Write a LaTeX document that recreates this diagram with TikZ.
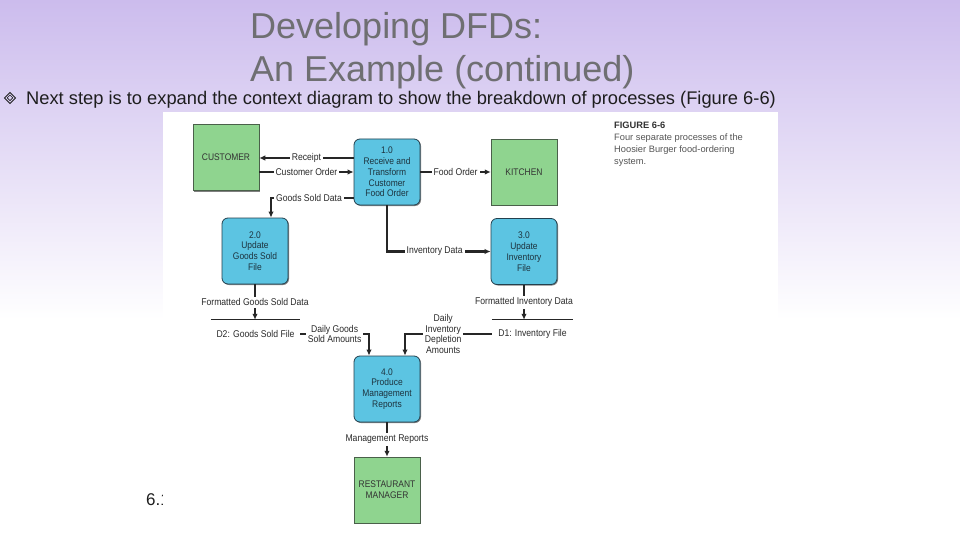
\documentclass[tikz,border=0pt]{standalone}
\usepackage{fontspec}
\setmainfont{Liberation Sans}
\newfontfamily\nar[FakeStretch=0.88]{Liberation Sans}
\usetikzlibrary{arrows.meta,calc,shadows}
\definecolor{procblue}{HTML}{5CC4E2}
\definecolor{entgreen}{HTML}{8FD48F}
\definecolor{procedge}{HTML}{24404E}
\definecolor{entedge}{HTML}{4A604A}
\definecolor{titlegray}{HTML}{6F6F72}
\definecolor{bodytext}{HTML}{1E1E1E}
\definecolor{labelc}{HTML}{2A2A2A}
\definecolor{gradtop}{RGB}{204,188,237}
\definecolor{capgray}{HTML}{555555}
\begin{document}
\begin{tikzpicture}[x=1pt,y=-1pt,
  boxfont/.style={font={\nar\fontsize{9.6}{10.8}\selectfont}},
  proc/.style={boxfont, rounded corners=6pt, fill=procblue, draw=procedge, line width=0.8pt,
    minimum width=66pt, minimum height=66pt, align=center, inner sep=0pt, text=procedge!80!black,
    drop shadow={shadow xshift=1pt, shadow yshift=-1pt, fill=black, opacity=0.5}},
  ent/.style={boxfont, fill=entgreen, draw=entedge, line width=0.5pt,
    minimum width=66pt, minimum height=66pt, align=center, inner sep=0pt, text=black!80,
    drop shadow={shadow xshift=1pt, shadow yshift=-1pt, fill=black, opacity=0.5}},
  lbl/.style={font={\nar\fontsize{9.8}{10.8}\selectfont}, text=labelc, fill=white, inner sep=2pt, align=center},
  flow/.style={line width=2.4pt, draw=black!85, -{Latex[length=6pt,width=5.5pt]}},
  store/.style={font={\nar\fontsize{9.8}{10.8}\selectfont}, text=labelc, minimum height=28pt, inner sep=0pt},
  storeline/.style={line width=0.9pt, draw=black!85},
  diam/.style={line width=0.8pt, draw=bodytext}
]
\useasboundingbox (0,0) rectangle (960,540);
\fill[white] (0,0) rectangle (960,540);
\shade[top color=gradtop, bottom color=white] (0,0) rectangle (960,320);

% page number partly hidden behind the figure
\node[anchor=base west, inner sep=0pt, font={\fontsize{17}{20}\selectfont}, text=bodytext] (pnum) at (146,505) {6.1};

% figure area
\fill[white] (163,112) rectangle (778,526);

% title
\node[anchor=base west, inner sep=0pt, font={\fontsize{36}{40}\selectfont}, text=titlegray] (t1) at (250,39) {Developing DFDs:};
\node[anchor=base west, inner sep=0pt, font={\fontsize{36}{40}\selectfont}, text=titlegray] (t2) at (250,82) {An Example (continued)};

% bullet
\draw[diam] (10,92.5) -- (15.5,98) -- (10,103.5) -- (4.5,98) -- cycle;
\draw[diam, line width=0.6pt] (10,95) -- (12.8,97.8) -- (10,100.6) -- (7.2,97.8) -- cycle;
\node[anchor=base west, inner sep=0pt, font={\fontsize{18.3}{20}\selectfont}, text=bodytext] (b1) at (26,105)
  {Next step is to expand the context diagram to show the breakdown of processes (Figure 6-6)};

% caption
\node[anchor=north west, inner sep=0pt, align=left, text=capgray, font={\fontsize{9.3}{12}\selectfont}] (cap) at (614,122)
  {{\bfseries\color{black!80}FIGURE 6-6}\\Four separate processes of the\\Hoosier Burger food-ordering\\system.};

% nodes
\node[ent] (cust) at (226,157.5) {CUSTOMER};
\node[proc] (p1) at (387,172) {1.0\\Receive and\\Transform\\Customer\\Food Order};
\node[ent] (kit) at (524,172) {KITCHEN};
\node[proc] (p2) at (255,251) {2.0\\Update\\Goods Sold\\File};
\node[proc] (p3) at (524,251.5) {3.0\\Update\\Inventory\\File};
\node[proc] (p4) at (387,389) {4.0\\Produce\\Management\\Reports};
\node[ent] (mgr) at (387,490) {RESTAURANT\\MANAGER};
\node[store, minimum width=89pt] (d2) at (255.5,334) {D2: Goods Sold File};
\node[store, minimum width=81pt] (d1) at (532.5,334) {D1: Inventory File};
\draw[storeline] (d2.north west) -- (d2.north east);
\draw[storeline] (d1.north west) -- (d1.north east);

% flows
\draw[flow] ($(p1.west)+(0,-14)$) coordinate (r1) -- node[lbl]{Receipt} (cust.east |- r1);
\draw[flow] (cust.east |- p1.west) -- node[lbl]{Customer Order} (p1.west);
\draw[flow] ($(p1.west)+(0,26)$) -| node[lbl,pos=0.27]{Goods Sold Data} ($(p2.north)+(16,0)$);
\draw[flow] (p1.east) -- node[lbl]{Food Order} (kit.west);
\draw[flow] (p1.south) |- node[lbl,pos=0.73]{Inventory Data} (p3.west);
\draw[flow] (p2.south) -- node[lbl]{Formatted Goods Sold Data} (p2.south |- d2.north);
\draw[flow] (p3.south) -- node[lbl]{Formatted Inventory Data} (p3.south |- d1.north);
\draw[flow] (d2.east) -| node[lbl,pos=0.25]{Daily Goods\\Sold Amounts} ($(p4.north)+(-18,0)$);
\draw[flow] (d1.west) -| node[lbl,pos=0.28]{Daily\\Inventory\\Depletion\\Amounts} ($(p4.north)+(18,0)$);
\draw[flow] (p4.south) -- node[lbl]{Management Reports} (mgr.north);
\end{tikzpicture}
\end{document}
